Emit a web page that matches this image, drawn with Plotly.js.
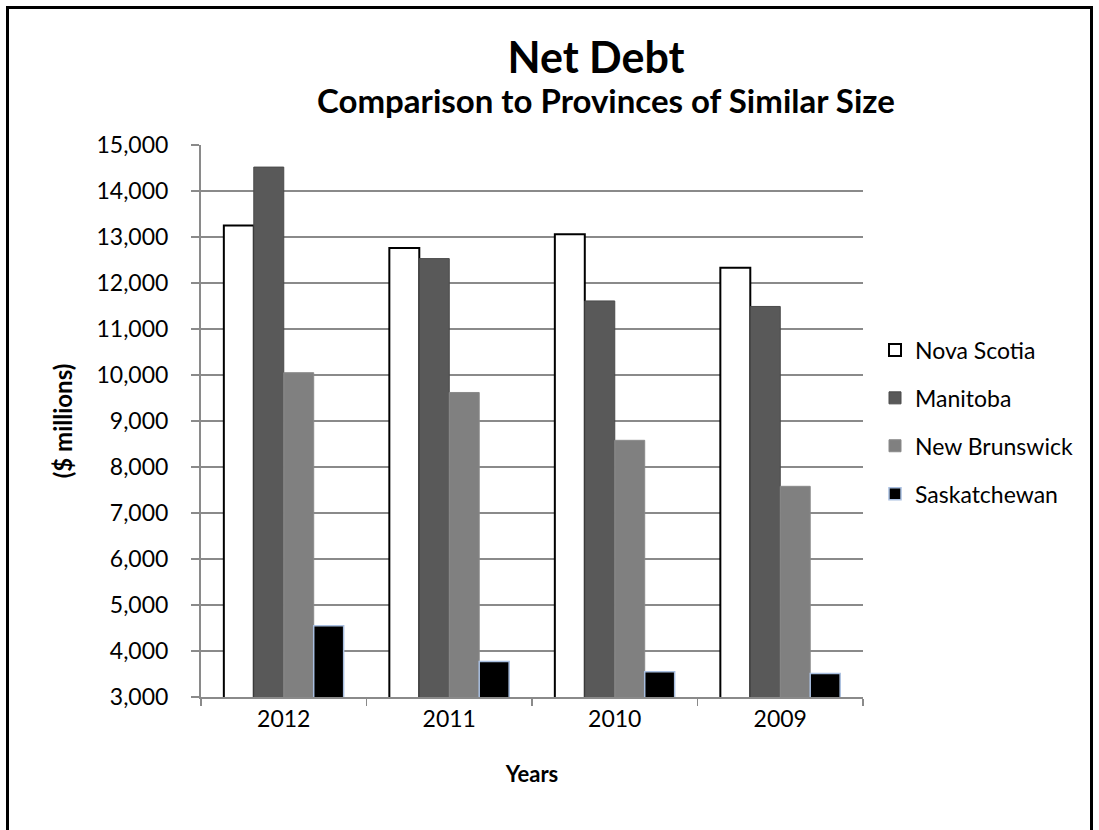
<!DOCTYPE html>
<html>
<head>
<meta charset="utf-8">
<script src="https://cdn.plot.ly/plotly-3.0.1.min.js"></script>
<style>
  html, body { margin: 0; padding: 0; background: #ffffff; }
  #chart { width: 1099px; height: 830px; }
</style>
</head>
<body>
<div id="chart"></div>
<script>
const years = ['2012', '2011', '2010', '2009'];
const novaScotia = [13250, 12760, 13060, 12330];
const manitoba = [14520, 12530, 11610, 11490];
const newBrunswick = [10050, 9620, 8580, 7580];
const saskatchewan = [4550, 3770, 3550, 3510];
const seriesNames = ['Nova Scotia', 'Manitoba', 'New Brunswick', 'Saskatchewan'];

const FONT = 'Lato, "Open Sans", sans-serif';
const GRID = '#8a8a8a';

function barTrace(name, values, fill, lineColor, lineWidth, group) {
  return {
    type: 'bar', name: name, x: years, y: values,
    legendgroup: group,
    marker: { color: fill, line: { color: lineColor, width: lineWidth } },
    hoverinfo: 'x+y+name'
  };
}

const traces = [
  barTrace(seriesNames[0], novaScotia, '#ffffff', '#000000', 2, 'g1'),
  barTrace(seriesNames[1], manitoba, '#595959', '#4a4a4a', 1, 'g2'),
  barTrace(seriesNames[2], newBrunswick, '#808080', '#8a8a8a', 1, 'g3'),
  barTrace(seriesNames[3], saskatchewan, '#000000', '#a9bfe0', 1.5, 'g4')
];

const L = 201, R = 863, T = 145, B = 697;
const pw = R - L, ph = B - T;

const layout = {
  width: 1099, height: 830,
  margin: { l: L, r: 1099 - R, t: T, b: 830 - B, pad: 0 },
  paper_bgcolor: '#ffffff', plot_bgcolor: '#ffffff',
  font: { family: FONT, color: '#000000', size: 23 },
  barmode: 'group', bargap: 0.276, bargroupgap: 0,
  showlegend: true,
  title: {
    text: '<b>Net Debt</b>',
    font: { family: FONT, size: 43, color: '#000000' },
    xref: 'container', yref: 'container',
    x: 596 / 1099, xanchor: 'center',
    y: 1 - 58 / 830, yanchor: 'middle'
  },
  annotations: [{
    text: '<b>Comparison to Provinces of Similar Size</b>',
    xref: 'paper', yref: 'paper',
    x: (606 - L) / pw, y: (B - 100) / ph,
    xanchor: 'center', yanchor: 'middle', showarrow: false,
    font: { family: FONT, size: 33, color: '#000000' }
  }],
  xaxis: {
    type: 'category',
    categoryorder: 'array', categoryarray: years,
    showline: true, linecolor: GRID, linewidth: 2,
    ticks: 'outside', tickson: 'boundaries', ticklen: 7, tickcolor: GRID, tickwidth: 1.5,
    showgrid: false, zeroline: false,
    tickfont: { family: FONT, size: 23, color: '#000000' },
    title: { text: '<b>Years</b>', font: { family: FONT, size: 22, color: '#000000' }, standoff: 36 },
    fixedrange: true
  },
  yaxis: {
    range: [3000, 15000], dtick: 1000, tick0: 3000,
    tickformat: ',d',
    showline: true, linecolor: GRID, linewidth: 2,
    ticks: 'outside', ticklen: 8, tickcolor: GRID, tickwidth: 1.5,
    showgrid: true, gridcolor: GRID, gridwidth: 2,
    zeroline: false,
    tickfont: { family: FONT, size: 23, color: '#000000' },
    ticklabelstandoff: 18,
    title: { text: '<b>($ millions)</b>', font: { family: FONT, size: 24, color: '#000000' }, standoff: 17 },
    fixedrange: true
  },
  legend: {
    xref: 'container', yref: 'container',
    x: 875 / 1099, xanchor: 'left',
    y: 1 - 422 / 830, yanchor: 'middle',
    traceorder: 'grouped', tracegroupgap: 15,
    font: { family: FONT, size: 23, color: '#000000' },
    bgcolor: 'rgba(0,0,0,0)', borderwidth: 0,
    itemclick: false, itemdoubleclick: false
  },
  shapes: [{
    type: 'rect', xref: 'paper', yref: 'paper',
    x0: (7.5 - L) / pw, x1: (1091.5 - L) / pw,
    y0: (B - 900) / ph, y1: (B - 7.5) / ph,
    line: { color: '#000000', width: 3 }, fillcolor: 'rgba(0,0,0,0)',
    layer: 'above'
  }]
};

Plotly.newPlot('chart', traces, layout, { displayModeBar: false, staticPlot: true });
</script>
</body>
</html>
